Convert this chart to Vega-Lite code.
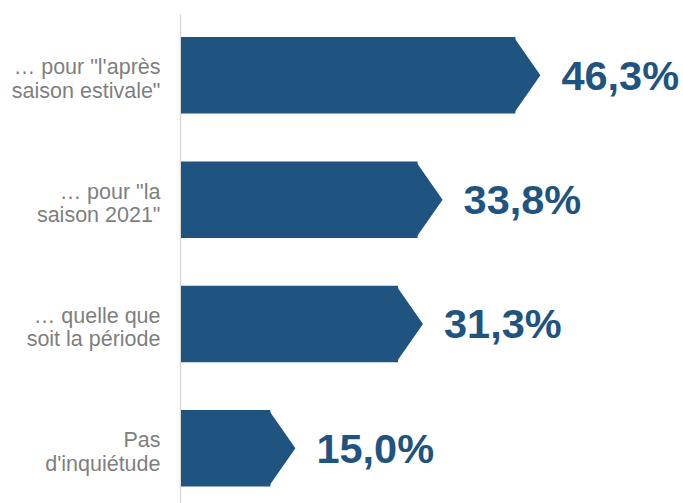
{
  "$schema": "https://vega.github.io/schema/vega-lite/v6.json",
  "width": 505,
  "height": 489,
  "autosize": "none",
  "padding": {"left": 178, "top": 14, "right": 0, "bottom": 0},
  "background": "white",
  "config": {"view": {"stroke": null}},
  "data": {
    "values": [
      {"cat": "… pour \"l'après|saison estivale\"", "value": 46.3, "label": "46,3%"},
      {"cat": "… pour \"la|saison 2021\"", "value": 33.8, "label": "33,8%"},
      {"cat": "… quelle que|soit la période", "value": 31.3, "label": "31,3%"},
      {"cat": "Pas|d'inquiétude", "value": 15.0, "label": "15,0%"}
    ]
  },
  "encoding": {
    "y": {
      "field": "cat",
      "type": "nominal",
      "sort": null,
      "scale": {"paddingInner": 0.3847, "paddingOuter": 0.1589, "align": 0.5835},
      "axis": {
        "title": null,
        "ticks": false,
        "offset": -2,
        "domainColor": "#d9d9d9",
        "domainWidth": 1.5,
        "labelPadding": 20,
        "labelFont": "Liberation Sans",
        "labelFontSize": 21.5,
        "labelColor": "#7f7f7f",
        "labelLineHeight": 23.5,
        "labelOffset": -7,
        "labelLimit": 300,
        "labelExpr": "split(datum.value, '|')"
      }
    }
  },
  "layer": [
    {
      "mark": {"type": "bar", "color": "#1f5380", "xOffset": -25, "x2Offset": 3},
      "encoding": {
        "x": {"field": "value", "type": "quantitative", "scale": {"domain": [0, 64.52], "nice": false}, "axis": null},
        "x2": {"datum": 0}
      }
    },
    {
      "mark": {"type": "point", "shape": "M-0.698,-1L0,0L-0.698,1Z", "size": 5852, "filled": true, "color": "#1f5380", "opacity": 1, "strokeWidth": 0},
      "encoding": {
        "x": {"field": "value", "type": "quantitative"}
      }
    },
    {
      "mark": {"type": "text", "align": "left", "baseline": "middle", "dx": 21, "dy": 2.5, "font": "Liberation Sans", "fontSize": 41.5, "fontWeight": "bold", "color": "#1f5380"},
      "encoding": {
        "x": {"field": "value", "type": "quantitative"},
        "text": {"field": "label"}
      }
    }
  ]
}
